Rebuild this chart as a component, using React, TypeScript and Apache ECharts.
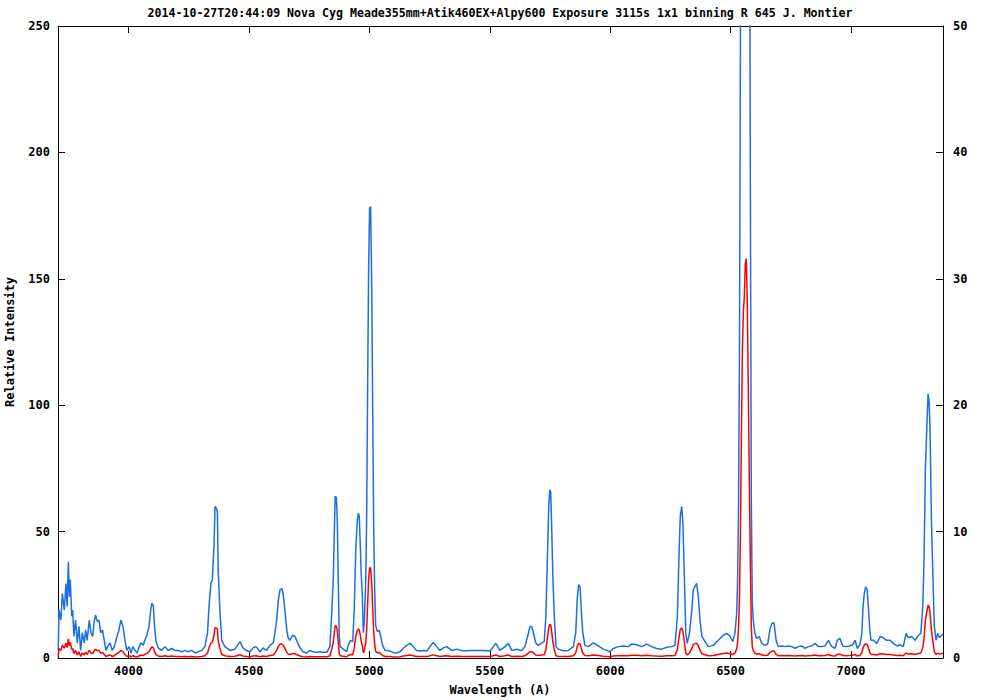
import React, { useEffect, useRef } from "react";
import * as echarts from "echarts";

const titleText =
  "2014-10-27T20:44:09 Nova Cyg Meade355mm+Atik460EX+Alpy600 Exposure 3115s 1x1 binning R 645 J. Montier";
const xAxisTitle = "Wavelength (A)";
const yAxisTitle = "Relative Intensity";

const xTicks = [4000, 4500, 5000, 5500, 6000, 6500, 7000];
const xMin = 3707;
const xMax = 7382;

// wavelength (Angstrom)
const wavelength = [
  3708, 3711, 3719, 3725, 3733, 3740, 3745, 3750, 3754, 3758, 3764, 3768, 3773, 3780, 3787, 3794,
  3801, 3808, 3816, 3822, 3828, 3837, 3844, 3851, 3858, 3863, 3870, 3877, 3884, 3892, 3899, 3906,
  3913, 3923, 3932, 3941, 3952, 3960, 3968, 3977, 3985, 3993, 4002, 4010, 4018, 4027, 4035, 4043,
  4051, 4060, 4068, 4076, 4085, 4092, 4097, 4103, 4107, 4113, 4123, 4137, 4151, 4165, 4179, 4193,
  4206, 4220, 4234, 4248, 4262, 4276, 4289, 4304, 4317, 4328, 4335, 4342, 4348, 4355, 4359, 4366,
  4369, 4372, 4380, 4387, 4400, 4421, 4442, 4463, 4475, 4488, 4504, 4517, 4529, 4546, 4558, 4573,
  4587, 4601, 4608, 4615, 4622, 4629, 4636, 4642, 4649, 4657, 4663, 4670, 4681, 4691, 4702, 4712,
  4724, 4740, 4753, 4766, 4782, 4795, 4807, 4823, 4836, 4843, 4850, 4854, 4858, 4863, 4867, 4871,
  4875, 4879, 4892, 4906, 4912, 4922, 4931, 4937, 4944, 4950, 4954, 4958, 4962, 4966, 4971, 4975,
  4979, 4985, 4989, 4993, 4997, 5001, 5005, 5010, 5014, 5018, 5022, 5026, 5033, 5041, 5047, 5055,
  5065, 5074, 5086, 5099, 5113, 5127, 5141, 5155, 5169, 5182, 5196, 5210, 5224, 5238, 5252, 5265,
  5280, 5293, 5307, 5321, 5342, 5363, 5390, 5418, 5446, 5473, 5501, 5525, 5542, 5563, 5577, 5591,
  5612, 5633, 5646, 5657, 5667, 5674, 5681, 5691, 5701, 5716, 5726, 5733, 5739, 5745, 5749, 5753,
  5757, 5762, 5768, 5775, 5784, 5805, 5826, 5847, 5857, 5863, 5869, 5875, 5880, 5886, 5895, 5909,
  5930, 5951, 5971, 5986, 5999, 6013, 6034, 6054, 6075, 6089, 6110, 6131, 6152, 6172, 6193, 6214,
  6235, 6255, 6269, 6279, 6286, 6291, 6297, 6302, 6308, 6314, 6320, 6329, 6339, 6345, 6359, 6366,
  6373, 6381, 6394, 6407, 6428, 6449, 6470, 6484, 6498, 6509, 6518, 6525, 6529, 6533, 6537, 6541,
  6545, 6549, 6553, 6557, 6561, 6565, 6569, 6574, 6578, 6582, 6586, 6590, 6594, 6601, 6608, 6619,
  6629, 6643, 6654, 6664, 6672, 6680, 6689, 6698, 6712, 6726, 6740, 6754, 6768, 6781, 6795, 6809,
  6823, 6837, 6851, 6864, 6878, 6892, 6906, 6920, 6934, 6943, 6954, 6966, 6979, 6993, 7007, 7017,
  7026, 7037, 7045, 7050, 7055, 7061, 7067, 7072, 7078, 7083, 7093, 7107, 7121, 7134, 7148, 7162,
  7176, 7190, 7204, 7217, 7229, 7238, 7252, 7266, 7280, 7290, 7298, 7303, 7309, 7315, 7320, 7324,
  7328, 7334, 7339, 7346, 7353, 7360, 7367, 7377, 7382,
];

// relative intensity (left axis units; the blue trace shows the same values on the right axis)
const flux = [
  0.6, 3.8, 3.0, 5.1, 3.8, 5.9, 4.1, 7.6, 4.85, 6.2, 3.3, 3.8, 1.7, 3.0, 1.2, 2.5,
  0.6, 2.0, 1.2, 2.2, 1.4, 3.0, 2.0, 1.7, 3.0, 3.4, 2.9, 3.0, 2.0, 2.2, 1.4, 0.6,
  0.9, 1.2, 0.6, 0.9, 1.7, 2.2, 3.0, 2.5, 1.4, 0.6, 0.9, 0.4, 0.9, 0.6, 0.4, 0.8,
  1.2, 1.0, 1.4, 1.8, 2.5, 3.8, 4.35, 4.1, 2.8, 1.4, 0.8, 0.6, 0.9, 0.6, 0.75, 0.6,
  0.6, 0.5, 0.6, 0.5, 0.6, 0.4, 0.5, 0.6, 0.9, 2.0, 4.35, 5.9, 6.2, 9.0, 12.0, 11.8,
  11.5, 7.0, 3.5, 1.4, 0.9, 0.6, 0.7, 1.3, 0.8, 0.6, 0.5, 0.8, 0.9, 0.5, 0.8, 0.6,
  1.0, 1.2, 2.0, 3.0, 4.6, 5.4, 5.5, 5.1, 3.8, 2.2, 1.6, 1.4, 1.8, 1.7, 1.2, 0.8,
  0.5, 0.4, 0.6, 0.5, 0.45, 0.5, 0.45, 0.45, 0.9, 3.3, 6.2, 9.6, 12.8, 12.7, 10.7, 6.0,
  1.7, 0.9, 0.7, 0.5, 1.0, 1.4, 1.3, 3.8, 8.8, 10.9, 11.45, 11.2, 9.1, 6.7, 4.85, 2.0,
  2.8, 6.2, 11.7, 22.0, 31.1, 35.6, 35.7, 29.1, 19.1, 10.4, 5.4, 2.6, 2.1, 2.2, 1.7, 1.0,
  0.6, 0.6, 0.55, 0.42, 0.4, 0.5, 0.77, 1.0, 1.16, 0.9, 0.6, 0.55, 0.6, 0.55, 0.9, 1.24,
  0.9, 0.6, 0.8, 0.9, 0.6, 0.7, 0.55, 0.6, 0.6, 0.6, 0.55, 1.16, 0.6, 0.9, 1.16, 0.6,
  0.7, 0.6, 0.9, 1.7, 2.5, 2.5, 2.0, 1.2, 1.0, 1.2, 1.3, 3.3, 7.75, 12.0, 13.3, 13.15,
  10.4, 6.4, 3.3, 0.9, 0.7, 0.58, 0.6, 0.9, 2.0, 4.6, 5.8, 5.6, 3.8, 2.0, 1.0, 0.9,
  1.2, 0.95, 0.7, 0.6, 0.5, 0.75, 0.9, 0.95, 0.9, 1.1, 1.05, 0.9, 1.1, 0.9, 0.75, 0.7,
  0.85, 0.9, 1.0, 3.3, 8.3, 11.2, 12.0, 10.65, 6.4, 1.95, 1.16, 1.95, 3.8, 5.4, 5.9, 4.85,
  3.0, 1.7, 1.3, 0.9, 1.0, 1.4, 1.8, 1.95, 1.7, 1.3, 1.95, 3.5, 6.0, 12.0, 25.0, 50.0,
  90.0, 122.0, 137.0, 143.0, 156.0, 158.0, 143.0, 102.0, 68.0, 37.5, 12.4, 4.5, 3.0, 1.95, 1.55, 1.7,
  1.16, 1.0, 1.1, 2.35, 2.75, 2.8, 1.4, 0.9, 0.95, 0.9, 0.95, 0.9, 0.77, 0.9, 0.95, 0.77,
  0.9, 0.95, 1.16, 0.9, 0.9, 0.95, 1.4, 0.9, 0.77, 1.4, 1.55, 0.95, 0.9, 0.95, 1.05, 1.4,
  0.77, 1.05, 1.95, 4.05, 5.1, 5.64, 5.4, 4.05, 2.2, 1.4, 1.4, 1.16, 1.7, 1.6, 1.4, 1.4,
  1.16, 0.95, 1.05, 0.9, 1.95, 1.6, 1.7, 1.4, 1.8, 1.95, 4.05, 7.5, 15.1, 18.3, 20.9, 20.4,
  18.3, 10.9, 7.2, 2.5, 1.4, 1.95, 1.6, 1.8, 1.9,
];

const FONT = "DejaVu Sans Mono";

export default function App() {
  const ref = useRef<HTMLDivElement>(null);

  useEffect(() => {
    if (!ref.current) return;
    const chart = echarts.init(ref.current, null, { renderer: "svg" });
    const points = wavelength.map((w, i) => [w, flux[i]]);

    const labelStyle = {
      color: "#000",
      fontFamily: FONT,
      fontWeight: "bold" as const,
      fontSize: 12,
    };
    const lineStyle = { color: "#000", width: 1 };
    const plain = (v: number) => String(v);

    chart.setOption({
      animation: false,
      backgroundColor: "#fff",
      grid: { left: 58, right: 57, top: 26, bottom: 42, containLabel: false },
      xAxis: [
        {
          type: "value",
          position: "bottom",
          min: xMin,
          max: xMax,
          axisLine: { show: true, onZero: false, lineStyle },
          axisTick: { show: true, inside: true, length: 7, customValues: xTicks, lineStyle },
          axisLabel: { ...labelStyle, customValues: xTicks, margin: 7, formatter: plain },
          splitLine: { show: false },
        },
        {
          type: "value",
          position: "top",
          min: xMin,
          max: xMax,
          axisLine: { show: true, onZero: false, lineStyle },
          axisTick: { show: true, inside: true, length: 7, customValues: xTicks, lineStyle },
          axisLabel: { show: false },
          splitLine: { show: false },
        },
      ],
      yAxis: [
        {
          type: "value",
          position: "left",
          min: 0,
          max: 250,
          interval: 50,
          axisLine: { show: true, onZero: false, lineStyle },
          axisTick: { show: true, inside: true, length: 7, lineStyle },
          axisLabel: { ...labelStyle, margin: 8, formatter: plain },
          splitLine: { show: false },
        },
        {
          type: "value",
          position: "right",
          min: 0,
          max: 50,
          interval: 10,
          axisLine: { show: true, onZero: false, lineStyle },
          axisTick: { show: true, inside: true, length: 7, lineStyle },
          axisLabel: { ...labelStyle, margin: 10, formatter: plain },
          splitLine: { show: false },
        },
      ],
      series: [
        {
          type: "line",
          name: "x5",
          xAxisIndex: 0,
          yAxisIndex: 1,
          data: points,
          showSymbol: false,
          symbol: "none",
          clip: true,
          lineStyle: { color: "#1a6fe3", width: 1.5 },
          z: 2,
        },
        {
          type: "line",
          name: "flux",
          xAxisIndex: 0,
          yAxisIndex: 0,
          data: points,
          showSymbol: false,
          symbol: "none",
          clip: true,
          lineStyle: { color: "#ff0000", width: 1.5 },
          z: 3,
        },
      ],
      graphic: [
        {
          type: "text",
          x: 500,
          y: 13,
          style: {
            text: titleText,
            fill: "#000",
            font: `bold 11.6px "${FONT}"`,
            textAlign: "center",
            textVerticalAlign: "middle",
          },
        },
        {
          type: "text",
          x: 500,
          y: 690,
          style: {
            text: xAxisTitle,
            fill: "#000",
            font: `bold 12px "${FONT}"`,
            textAlign: "center",
            textVerticalAlign: "middle",
          },
        },
        {
          type: "text",
          x: 10,
          y: 342,
          rotation: Math.PI / 2,
          style: {
            text: yAxisTitle,
            fill: "#000",
            font: `bold 12px "${FONT}"`,
            textAlign: "center",
            textVerticalAlign: "middle",
          },
        },
      ],
    });

    return () => chart.dispose();
  }, []);

  return (
    <div
      ref={ref}
      style={{ position: "fixed", left: 0, top: 0, width: 1000, height: 700, background: "#fff" }}
    />
  );
}
